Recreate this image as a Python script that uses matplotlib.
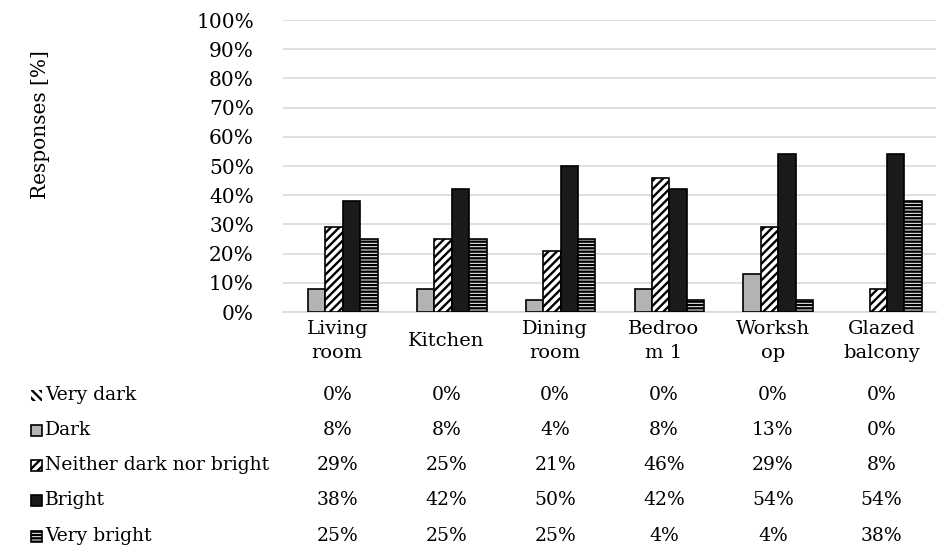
import matplotlib
matplotlib.use('Agg')
import matplotlib.pyplot as plt
from matplotlib.patches import Rectangle
import numpy as np

rooms = ['Living\nroom', 'Kitchen', 'Dining\nroom', 'Bedroo\nm 1', 'Worksh\nop', 'Glazed\nbalcony']
series = ['Very dark', 'Dark', 'Neither dark nor bright', 'Bright', 'Very bright']
very_dark = [0, 0, 0, 0, 0, 0]
dark = [8, 8, 4, 8, 13, 0]
neither = [29, 25, 21, 46, 29, 8]
bright = [38, 42, 50, 42, 54, 54]
very_bright = [25, 25, 25, 4, 4, 38]
yticks = list(range(0, 101, 10))

values = [very_dark, dark, neither, bright, very_bright]
faces = ['white', '#b3b3b3', 'white', '#1a1a1a', 'white']
hatches = ['\\\\\\\\', None, '////', None, '-----']

plt.rcParams['font.family'] = ['DejaVu Serif']
plt.rcParams['hatch.linewidth'] = 1.7

W, H = 946, 556
fig = plt.figure(figsize=(W / 100, H / 100), dpi=100)

# plot area in pixel units
left, right, top, bottom = 283, 936, 20, 312
ax = fig.add_axes([left / W, 1 - bottom / H, (right - left) / W, (bottom - top) / H])

x = np.arange(len(rooms))
bw = 0.16
for i, (vals, fc, h) in enumerate(zip(values, faces, hatches)):
    pos = x + (i - 2) * bw - 0.03
    # empty categories get no outline
    lws = [1.2 if v > 0 else 0 for v in vals]
    ax.bar(pos, vals, width=bw, color=fc, edgecolor='black', linewidth=lws,
           hatch=h, zorder=3)

ax.set_xlim(-0.5, len(rooms) - 0.5)
ax.set_ylim(0, 100)
ax.set_yticks(yticks)
ax.set_yticklabels([f'{t}%' for t in yticks], fontsize=14.5)
ax.yaxis.grid(True, color='#d9d9d9', linewidth=1.2, zorder=0)
ax.tick_params(axis='y', length=0, pad=21)
ax.tick_params(axis='x', length=0, pad=21)
ax.set_xticks(x)
ax.set_xticklabels(rooms, fontsize=14, linespacing=1.45)
for lab in ax.get_xticklabels():
    lab.set_verticalalignment('center')
for s in ['top', 'right', 'left']:
    ax.spines[s].set_visible(False)
ax.spines['bottom'].set_color('#d9d9d9')
ax.spines['bottom'].set_linewidth(1.2)

fig.text(40 / W, 1 - 125 / H, 'Responses [%]', rotation=90, fontsize=14.5,
         ha='center', va='center')

# data table below the chart
row_y = [395, 430, 465, 500, 536]
col_x = [left + (right - left) * (i + 0.5) / len(rooms) for i in range(len(rooms))]
for r, (name, vals, fc, h) in enumerate(zip(series, values, faces, hatches)):
    yy = 1 - row_y[r] / H
    sz = 11
    lw = 0 if r == 0 else 1.2
    fig.patches.append(Rectangle((31 / W, yy - sz / 2 / H), sz / W, sz / H,
                                 transform=fig.transFigure, facecolor=fc,
                                 edgecolor='black', linewidth=lw, hatch=h))
    fig.text(45 / W, yy, name, fontsize=13.5, ha='left', va='center')
    for c, v in enumerate(vals):
        fig.text(col_x[c] / W, yy, f'{v}%', fontsize=13.5, ha='center', va='center')

fig.savefig('out.png', dpi=100)
